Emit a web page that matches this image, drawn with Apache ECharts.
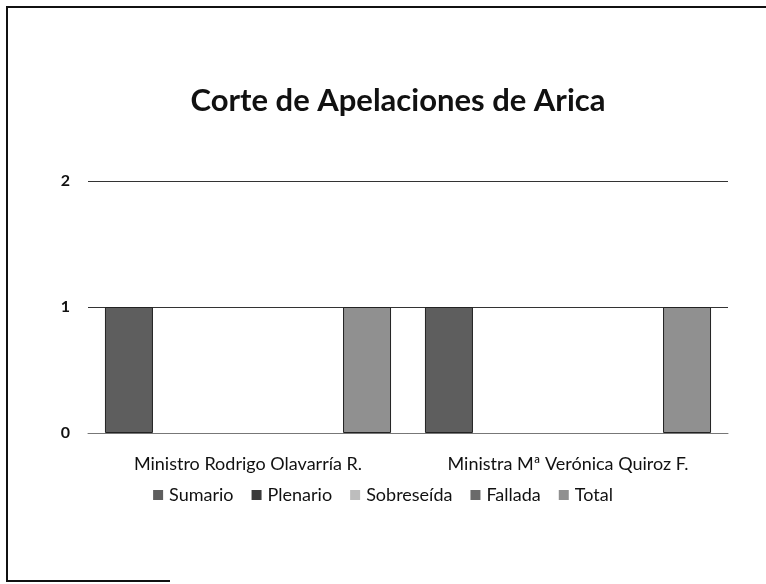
<!DOCTYPE html>
<html>
<head>
<meta charset="utf-8">
<script src="https://cdn.jsdelivr.net/npm/echarts@6/dist/echarts.min.js"></script>
<style>
  html, body { margin: 0; padding: 0; background: #fff; overflow: hidden; }
  #chart { width: 766px; height: 584px; }
</style>
</head>
<body>
<div id="chart"></div>
<script>
const categories = ["Ministro Rodrigo Olavarría R.", "Ministra Mª Verónica Quiroz F."];
const seriesNames = ["Sumario", "Plenario", "Sobreseída", "Fallada", "Total"];
const sumario = [1, 1];
const plenario = [0, 0];
const sobreseida = [0, 0];
const fallada = [0, 0];
const total = [1, 1];
const yTicks = [0, 1, 2];

const seriesData = [sumario, plenario, sobreseida, fallada, total];
const colors = ["#5e5e5e", "#3a3a3a", "#bdbdbd", "#6a6a6a", "#909090"];

const chart = echarts.init(document.getElementById("chart"));

chart.setOption({
  animation: false,
  color: colors,
  textStyle: { fontFamily: "Lato, 'Open Sans', sans-serif", color: "#111" },
  // scanned page frame: top and left edges, short stub at the bottom
  graphic: [
    {
      type: "polyline",
      shape: { points: [[800, 7], [7, 7], [7, 581], [170, 581]] },
      style: { stroke: "#111", lineWidth: 2, fill: null },
    },
  ],
  title: {
    text: "Corte de Apelaciones de Arica",
    left: 393,
    textAlign: "center",
    top: 80,
    textStyle: { fontSize: 31, fontWeight: "bold", color: "#111", fontFamily: "Lato, sans-serif" },
  },
  grid: { left: 88, right: 38, top: 181, bottom: 151 },
  legend: {
    data: seriesNames,
    top: 481,
    left: "center",
    itemWidth: 10,
    itemHeight: 10,
    itemGap: 18,
    icon: "rect",
    textStyle: { fontSize: 18, color: "#111", padding: [0, 0, 0, 1] },
  },
  xAxis: {
    type: "category",
    data: categories,
    axisTick: { show: false },
    axisLine: { lineStyle: { color: "#777", width: 1 } },
    axisLabel: { fontSize: 18, color: "#111", margin: 22, interval: 0 },
  },
  yAxis: {
    type: "value",
    min: yTicks[0],
    max: yTicks[yTicks.length - 1],
    interval: 1,
    axisLine: { show: false },
    axisTick: { show: false },
    axisLabel: { fontSize: 16, color: "#111", fontWeight: "bold", margin: 18 },
    splitLine: { lineStyle: { color: "#333", width: 1 } },
  },
  series: seriesNames.map((name, i) => ({
    name,
    type: "bar",
    barGap: "24%",
    barCategoryGap: "10.6%",
    data: seriesData[i].map((v) => ({
      value: v,
      itemStyle: { borderColor: "#222", borderWidth: v ? 1 : 0 },
    })),
  })),
});
</script>
</body>
</html>
